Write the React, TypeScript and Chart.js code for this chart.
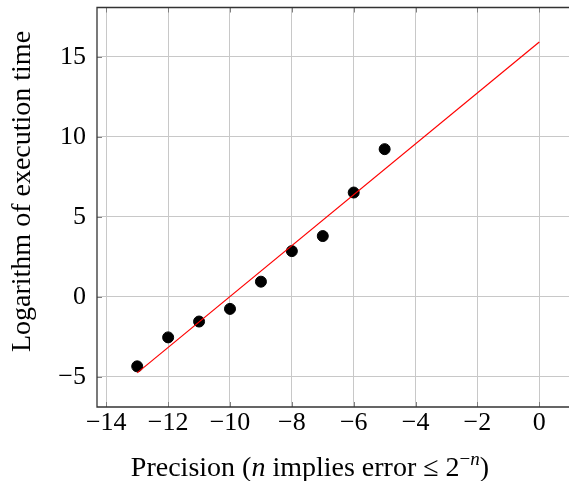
import React, { useEffect, useRef } from "react";
import { Chart, registerables } from "chart.js";

Chart.register(...registerables);

const precisions = [-13, -12, -11, -10, -9, -8, -7, -6, -5];
const logTimes = [-4.34, -2.53, -1.54, -0.75, 0.95, 2.86, 3.8, 6.52, 9.23];
const fitX = [-13, 0];
const fitY = [-4.75, 15.92];
const xTicks = [-14, -12, -10, -8, -6, -4, -2, 0];
const yTicks = [-5, 0, 5, 10, 15];
const xRange = [-14.3, 1.3];
const yRange = [-6.88, 18.08];

const FONT = "'Liberation Serif', serif";
const fmt = (v: number) => (v < 0 ? "\u2212" + Math.abs(v) : String(v));

const zeroPad = (s: any) => {
  s.paddingTop = 0;
  s.paddingBottom = 0;
  s.paddingLeft = 0;
  s.paddingRight = 0;
};

const framePlugin = {
  id: "frame",
  afterDraw(chart: any) {
    const { ctx, chartArea: a, scales } = chart;
    ctx.save();
    // inner ticks
    ctx.strokeStyle = "#808080";
    ctx.lineWidth = 1;
    const tl = 5;
    ctx.beginPath();
    xTicks.forEach((t) => {
      const px = Math.round(scales.x.getPixelForValue(t)) + 0.5;
      ctx.moveTo(px, a.bottom);
      ctx.lineTo(px, a.bottom - tl);
      ctx.moveTo(px, a.top);
      ctx.lineTo(px, a.top + tl);
    });
    yTicks.forEach((t) => {
      const py = Math.round(scales.y.getPixelForValue(t)) + 0.5;
      ctx.moveTo(a.left, py);
      ctx.lineTo(a.left + tl, py);
    });
    ctx.stroke();
    ctx.strokeStyle = "#333333";
    ctx.lineWidth = 1.3;
    ctx.beginPath();
    ctx.moveTo(a.right + 5, a.top);
    ctx.lineTo(a.left, a.top);
    ctx.lineTo(a.left, a.bottom);
    ctx.lineTo(a.right + 5, a.bottom);
    ctx.stroke();

    // axis titles
    ctx.fillStyle = "#000";
    ctx.textBaseline = "alphabetic";
    const size = 28;
    const small = 19;
    const parts: [string, string, number][] = [
      ["Precision (", `${size}px ${FONT}`, 0],
      ["n", `italic ${size}px ${FONT}`, 0],
      [" implies error \u2264 2", `${size}px ${FONT}`, 0],
      ["\u2212", `${small}px ${FONT}`, -11],
      ["n", `italic ${small}px ${FONT}`, -11],
      [")", `${size}px ${FONT}`, 0],
    ];
    let total = 0;
    parts.forEach(([s, f]) => {
      ctx.font = f;
      total += ctx.measureText(s).width;
    });
    let x = 310 - total / 2;
    const base = 476;
    parts.forEach(([s, f, dy]) => {
      ctx.font = f;
      ctx.textAlign = "left";
      ctx.fillText(s, x, base + dy);
      x += ctx.measureText(s).width;
    });

    ctx.translate(30, 191.5);
    ctx.rotate(-Math.PI / 2);
    ctx.font = `${size}px ${FONT}`;
    ctx.textAlign = "center";
    ctx.fillText("Logarithm of execution time", 0, 0);
    ctx.restore();
  },
};

export default function App() {
  const ref = useRef<HTMLCanvasElement>(null);
  useEffect(() => {
    if (!ref.current) return;
    const chart = new Chart(ref.current, {
      type: "scatter",
      data: {
        datasets: [
          {
            type: "line",
            data: fitX.map((x, i) => ({ x, y: fitY[i] })),
            borderColor: "#ff0000",
            borderWidth: 1.2,
            pointRadius: 0,
            fill: false,
          } as any,
          {
            data: precisions.map((x, i) => ({ x, y: logTimes[i] })),
            backgroundColor: "#000",
            borderColor: "#000",
            pointRadius: 5.5,
            pointHoverRadius: 5.5,
          },
        ],
      },
      options: {
        responsive: false,
        animation: false,
        events: [],
        layout: { padding: { top: 7.5, right: 20.5, left: 0, bottom: 0 } },
        plugins: { legend: { display: false }, tooltip: { enabled: false } },
        scales: {
          x: {
            type: "linear",
            min: xRange[0],
            max: xRange[1],
            afterBuildTicks: (s: any) => {
              s.ticks = xTicks.map((v) => ({ value: v }));
            },
            afterFit: (s: any) => {
              s.height = 74;
              zeroPad(s);
            },
            ticks: {
              callback: (v: any) => fmt(Number(v)),
              font: { family: FONT, size: 26 },
              color: "#000",
              padding: 1,
              maxRotation: 0,
              autoSkip: false,
            },
            grid: { color: "#c8c8c8", lineWidth: 1, drawTicks: false },
            border: { display: false },
          },
          y: {
            type: "linear",
            min: yRange[0],
            max: yRange[1],
            afterBuildTicks: (s: any) => {
              s.ticks = yTicks.map((v) => ({ value: v }));
            },
            afterFit: (s: any) => {
              s.width = 97;
              zeroPad(s);
            },
            ticks: {
              callback: (v: any) => fmt(Number(v)),
              font: { family: FONT, size: 26 },
              color: "#000",
              padding: 11,
              autoSkip: false,
            },
            grid: { color: "#c8c8c8", lineWidth: 1, drawTicks: false },
            border: { display: false },
          },
        },
      },
      plugins: [framePlugin],
    });
    return () => chart.destroy();
  }, []);
  return (
    <div
      style={{
        position: "absolute",
        left: 0,
        top: 0,
        width: 569,
        height: 481,
        overflow: "hidden",
        background: "#fff",
      }}
    >
      <canvas ref={ref} width={600} height={481} style={{ display: "block" }} />
    </div>
  );
}
